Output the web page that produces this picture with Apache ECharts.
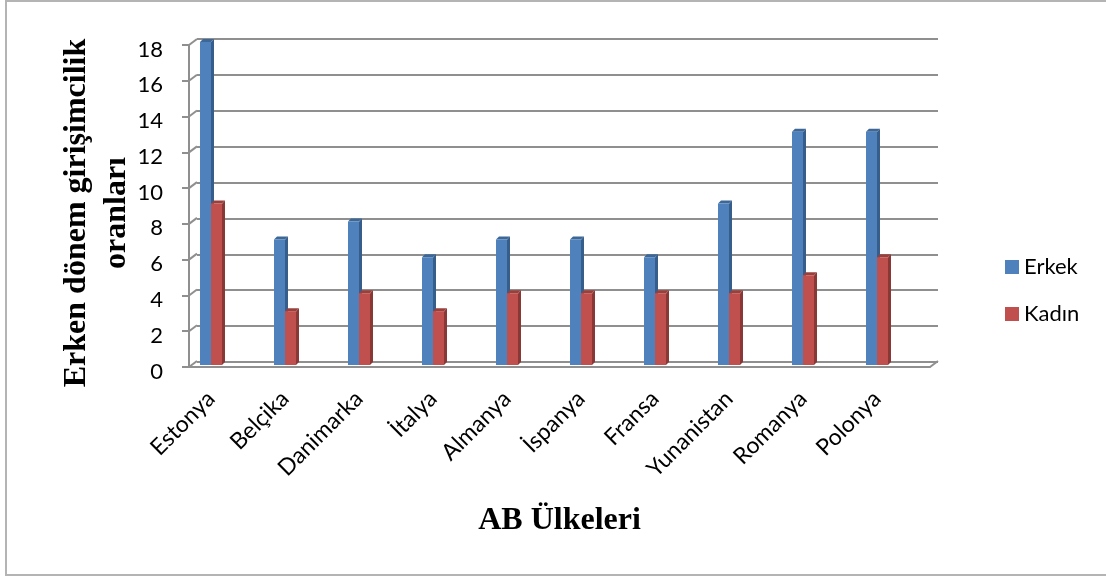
<!DOCTYPE html>
<html>
<head>
<meta charset="utf-8">
<script src="https://cdn.jsdelivr.net/npm/echarts@6/dist/echarts.min.js"></script>
<style>
  html, body { margin: 0; padding: 0; background: #fff; overflow: hidden; }
  #chart { position: absolute; left: 0; top: 0; width: 1106px; height: 576px; }
  #frame { position: absolute; left: 5px; top: 0px; width: 1110px; height: 572px;
           border: 2px solid #b4b4b4; pointer-events: none; }
</style>
</head>
<body>
<div id="chart"></div>
<div id="frame"></div>
<script>
// ---- data ----
const categories = ['Estonya', 'Belçika', 'Danimarka', 'İtalya', 'Almanya', 'İspanya', 'Fransa', 'Yunanistan', 'Romanya', 'Polonya'];
const erkek = [18, 7, 8, 6, 7, 7, 6, 9, 13, 13];
const kadin = [9, 3, 4, 3, 4, 4, 4, 4, 5, 6];
const yTicks = [0, 2, 4, 6, 8, 10, 12, 14, 16, 18];
const seriesNames = ['Erkek', 'Kadın'];
const yTitle = 'Erken dönem girişimcilik\noranları';
const xTitle = 'AB Ülkeleri';

const GRID_COLOR = '#8f8f8f';
const DEPTH_X = 8, DEPTH_Y = 6;

function barRenderer(side, frontColor, sideColor, topColor) {
  return function (params, api) {
    const ci = api.value(0);
    const v = api.value(1);
    const t = api.coord([ci, v]);
    const b = api.coord([ci, 0]);
    const bw = 11, d = 3;
    const x0 = side === 'left' ? t[0] - bw : t[0];
    const x1 = x0 + bw;
    return {
      type: 'group',
      children: [
        { type: 'polygon', shape: { points: [[x1, t[1]], [x1 + d, t[1] - d], [x1 + d, b[1] - d], [x1, b[1]]] },
          style: { fill: sideColor } },
        { type: 'polygon', shape: { points: [[x0, t[1]], [x0 + d, t[1] - d], [x1 + d, t[1] - d], [x1, t[1]]] },
          style: { fill: topColor } },
        { type: 'rect', shape: { x: x0, y: t[1], width: bw, height: b[1] - t[1] },
          style: { fill: frontColor } }
      ]
    };
  };
}

function edgeRenderer(params, api) {
  const p = api.coord([api.value(0), api.value(1)]);
  return {
    type: 'line',
    shape: { x1: p[0], y1: p[1], x2: p[0] + DEPTH_X, y2: p[1] - DEPTH_Y },
    style: { stroke: GRID_COLOR, lineWidth: 2 }
  };
}

const chart = echarts.init(document.getElementById('chart'), null, { renderer: 'canvas' });
chart.setOption({
  animation: false,
  backgroundColor: '#ffffff',
  legend: {
    data: seriesNames,
    orient: 'vertical',
    left: 1000,
    top: 251,
    itemWidth: 14,
    itemHeight: 14,
    itemGap: 25,
    itemTextGap: 8,
    icon: 'rect',
    textStyle: { fontFamily: 'Lato', fontSize: 22, color: '#000', lineHeight: 20 }
  },
  grid: [
    // back wall
    { left: 197, right: 168, top: 39, bottom: 214 },
    // front axes
    { left: 189, right: 176, top: 45, bottom: 209 },
    // bars
    { left: 174, right: 192, top: 42, bottom: 211 }
  ],
  xAxis: [
    { gridIndex: 0, type: 'value', min: 0, max: 1, show: false },
    { gridIndex: 1, type: 'value', min: 0, max: 1,
      axisLine: { show: true, lineStyle: { color: GRID_COLOR, width: 2 } },
      axisTick: { show: false }, axisLabel: { show: false }, splitLine: { show: false },
      name: xTitle, nameLocation: 'middle', nameGap: 138, nameMoveOverlap: false,
      nameTextStyle: { fontFamily: 'Liberation Serif', fontWeight: 'bold', fontSize: 32, lineHeight: 32, color: '#000' } },
    { gridIndex: 2, type: 'category', data: categories,
      axisLine: { show: false }, axisTick: { show: false },
      axisLabel: { rotate: 45, margin: 30, fontFamily: 'Lato', fontSize: 23, color: '#000', interval: 0 } }
  ],
  yAxis: [
    { gridIndex: 0, type: 'value', min: 0, max: 18, interval: 2,
      axisLine: { show: false }, axisTick: { show: false }, axisLabel: { show: false },
      splitLine: { show: true, lineStyle: { color: GRID_COLOR, width: 2 } } },
    { gridIndex: 1, type: 'value', min: 0, max: 18, interval: 2,
      axisLine: { show: true, lineStyle: { color: GRID_COLOR, width: 2 } },
      axisTick: { show: true, length: 7, lineStyle: { color: GRID_COLOR, width: 2 } },
      axisLabel: { margin: 26, color: '#000',
                   formatter: function (v) { return yTicks.indexOf(v) >= 0 ? '{v|' + v + '}' : ''; },
                   rich: { v: { fontFamily: 'Lato', fontSize: 22, color: '#000', padding: [9, 0, 0, 0] } } },
      splitLine: { show: false },
      name: yTitle, nameLocation: 'middle', nameRotate: 90, nameGap: 52, nameMoveOverlap: false,
      nameTextStyle: { fontFamily: 'Liberation Serif', fontWeight: 'bold', fontSize: 32, lineHeight: 40,
                       color: '#000', padding: [0, 14, 0, 0] } },
    { gridIndex: 2, type: 'value', min: 0, max: 18, show: false }
  ],
  series: [
    { name: 'edges', type: 'custom', xAxisIndex: 1, yAxisIndex: 1, silent: true,
      renderItem: edgeRenderer,
      data: yTicks.map(v => [0, v]).concat([[1, 0]]) },
    { name: seriesNames[0], type: 'custom', xAxisIndex: 2, yAxisIndex: 2,
      itemStyle: { color: '#4f81bd' },
      renderItem: barRenderer('left', '#4f81bd', '#375d8b', '#3d6797'),
      data: erkek.map((v, i) => [i, v]) },
    { name: seriesNames[1], type: 'custom', xAxisIndex: 2, yAxisIndex: 2,
      itemStyle: { color: '#c0504d' },
      renderItem: barRenderer('right', '#c0504d', '#8a3836', '#99403d'),
      data: kadin.map((v, i) => [i, v]) }
  ]
});
</script>
</body>
</html>
